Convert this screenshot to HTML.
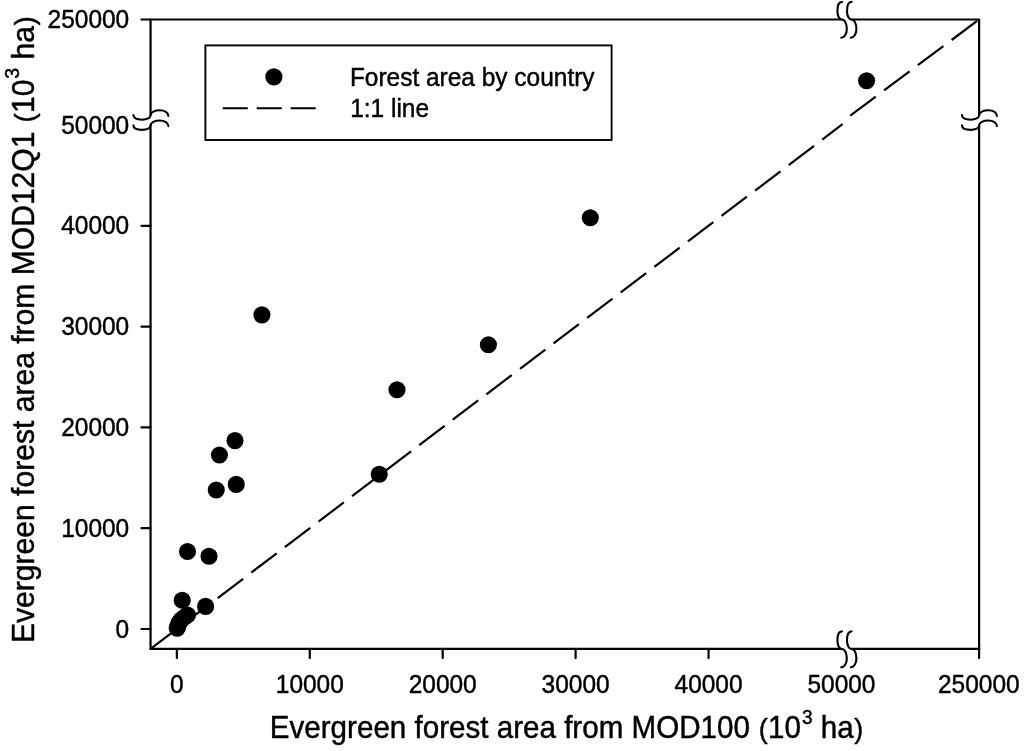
<!DOCTYPE html>
<html lang="en"><head><meta charset="utf-8"><title>Evergreen forest area</title>
<style>html,body{margin:0;padding:0;background:#fff}svg{display:block}text{font-family:"Liberation Sans",Arial,sans-serif;fill:#000;stroke:#000;stroke-width:0.45px;stroke-linejoin:round}</style></head><body>
<svg width="1024" height="751" viewBox="0 0 1024 751">
<rect width="1024" height="751" fill="#fff"/>
<g stroke="#000" stroke-width="2.2" fill="none" stroke-linecap="butt">
<path d="M149.55,19.5 H841.6999999999999 M851.1,19.5 H980.1"/>
<path d="M149.55,648.95 H841.6999999999999 M851.1,648.95 H980.1"/>
<path d="M150.55,19.5 V115.89999999999999 M150.55,125.3 V648.95"/>
<path d="M979.1,19.5 V115.89999999999999 M979.1,125.3 V648.95"/>
<path stroke-linecap="round" d="M176.85,648.95 V658.0500000000001"/>
<path stroke-linecap="round" d="M141.45000000000002,629.00 H150.55"/>
<path stroke-linecap="round" d="M309.77,648.95 V658.0500000000001"/>
<path stroke-linecap="round" d="M141.45000000000002,528.20 H150.55"/>
<path stroke-linecap="round" d="M442.69,648.95 V658.0500000000001"/>
<path stroke-linecap="round" d="M141.45000000000002,427.40 H150.55"/>
<path stroke-linecap="round" d="M575.61,648.95 V658.0500000000001"/>
<path stroke-linecap="round" d="M141.45000000000002,326.60 H150.55"/>
<path stroke-linecap="round" d="M708.53,648.95 V658.0500000000001"/>
<path stroke-linecap="round" d="M141.45000000000002,225.80 H150.55"/>
<path stroke-linecap="round" d="M979.1,648.95 V658.0500000000001"/>
<path stroke-linecap="round" d="M141.45000000000002,19.5 H150.55"/>
</g>
<g stroke="#000" stroke-width="2.1" fill="none" stroke-linecap="round">
<path transform="translate(841.60,19.5)" d="M0.4,-17.6 C-2.6,-17.6 -4.2,-13.6 -4.2,-8.6 C-4.2,-3.6 -2.3,0 0.2,0 C3.3,0 5.2,4.5 5.2,9.5 C5.2,14.5 2.7,18.3 -0.4,18.3"/>
<path transform="translate(851.20,19.5)" d="M0.4,-17.6 C-2.6,-17.6 -4.2,-13.6 -4.2,-8.6 C-4.2,-3.6 -2.3,0 0.2,0 C3.3,0 5.2,4.5 5.2,9.5 C5.2,14.5 2.7,18.3 -0.4,18.3"/>
<path transform="translate(841.60,648.95)" d="M0.4,-17.6 C-2.6,-17.6 -4.2,-13.6 -4.2,-8.6 C-4.2,-3.6 -2.3,0 0.2,0 C3.3,0 5.2,4.5 5.2,9.5 C5.2,14.5 2.7,18.3 -0.4,18.3"/>
<path transform="translate(851.20,648.95)" d="M0.4,-17.6 C-2.6,-17.6 -4.2,-13.6 -4.2,-8.6 C-4.2,-3.6 -2.3,0 0.2,0 C3.3,0 5.2,4.5 5.2,9.5 C5.2,14.5 2.7,18.3 -0.4,18.3"/>
<path transform="translate(150.55,115.50) rotate(-90) scale(1,0.975)" d="M0.4,-17.6 C-2.6,-17.6 -4.2,-13.6 -4.2,-8.6 C-4.2,-3.6 -2.3,0 0.2,0 C3.3,0 5.2,4.5 5.2,9.5 C5.2,14.5 2.7,18.3 -0.4,18.3"/>
<path transform="translate(150.55,125.70) rotate(-90) scale(1,0.975)" d="M0.4,-17.6 C-2.6,-17.6 -4.2,-13.6 -4.2,-8.6 C-4.2,-3.6 -2.3,0 0.2,0 C3.3,0 5.2,4.5 5.2,9.5 C5.2,14.5 2.7,18.3 -0.4,18.3"/>
<path transform="translate(979.1,115.50) rotate(-90) scale(1,0.975)" d="M0.4,-17.6 C-2.6,-17.6 -4.2,-13.6 -4.2,-8.6 C-4.2,-3.6 -2.3,0 0.2,0 C3.3,0 5.2,4.5 5.2,9.5 C5.2,14.5 2.7,18.3 -0.4,18.3"/>
<path transform="translate(979.1,125.70) rotate(-90) scale(1,0.975)" d="M0.4,-17.6 C-2.6,-17.6 -4.2,-13.6 -4.2,-8.6 C-4.2,-3.6 -2.3,0 0.2,0 C3.3,0 5.2,4.5 5.2,9.5 C5.2,14.5 2.7,18.3 -0.4,18.3"/>
</g>
<path d="M150.55,648.95 L842.5,124.24" stroke="#000" stroke-width="2.2" fill="none" stroke-dasharray="31.85 10.3"/>
<path d="M850.25,115.6 L979.1,19.5" stroke="#000" stroke-width="2.2" fill="none" stroke-dasharray="31.85 10.3"/>
<g fill="#000">
<circle cx="866.6" cy="80.75" r="8.55"/>
<circle cx="590.3" cy="217.7" r="8.55"/>
<circle cx="261.9" cy="314.9" r="8.55"/>
<circle cx="488.4" cy="344.8" r="8.55"/>
<circle cx="397" cy="389.8" r="8.55"/>
<circle cx="379.25" cy="474.25" r="8.55"/>
<circle cx="235" cy="440.6" r="8.55"/>
<circle cx="219.4" cy="455" r="8.55"/>
<circle cx="236.25" cy="484.4" r="8.55"/>
<circle cx="216.25" cy="490" r="8.55"/>
<circle cx="187.5" cy="551.5" r="8.55"/>
<circle cx="209" cy="556.25" r="8.55"/>
<circle cx="182.2" cy="600.3" r="8.55"/>
<circle cx="205.6" cy="606.4" r="8.55"/>
<circle cx="187.5" cy="615" r="8.55"/>
<circle cx="184" cy="617.5" r="8.55"/>
<circle cx="181" cy="620" r="8.55"/>
<circle cx="179" cy="623" r="8.55"/>
<circle cx="178" cy="626" r="8.55"/>
<circle cx="177.2" cy="628.1" r="8.55"/>
</g>
<rect x="205.4" y="45.4" width="406.2" height="94.6" fill="#fff" stroke="#000" stroke-width="1.9"/>
<circle cx="273.9" cy="76.9" r="8.6" fill="#000"/>
<path d="M222.7,108.3 H315.8" stroke="#000" stroke-width="2" stroke-dasharray="25.1 8.85" fill="none"/>
<text transform="translate(349.9,85.7) scale(0.967,1)" font-size="25.3">Forest area by country</text>
<text transform="translate(350.2,117.0) scale(0.967,1)" font-size="25.3">1:1 line</text>
<text transform="translate(176.85,692.60) scale(0.967,1)" font-size="25.3" text-anchor="middle">0</text>
<text transform="translate(129.20,637.60) scale(0.967,1)" font-size="25.3" text-anchor="end">0</text>
<text transform="translate(309.77,692.60) scale(0.967,1)" font-size="25.3" text-anchor="middle">10000</text>
<text transform="translate(129.20,536.80) scale(0.967,1)" font-size="25.3" text-anchor="end">10000</text>
<text transform="translate(442.69,692.60) scale(0.967,1)" font-size="25.3" text-anchor="middle">20000</text>
<text transform="translate(129.20,436.00) scale(0.967,1)" font-size="25.3" text-anchor="end">20000</text>
<text transform="translate(575.61,692.60) scale(0.967,1)" font-size="25.3" text-anchor="middle">30000</text>
<text transform="translate(129.20,335.20) scale(0.967,1)" font-size="25.3" text-anchor="end">30000</text>
<text transform="translate(708.53,692.60) scale(0.967,1)" font-size="25.3" text-anchor="middle">40000</text>
<text transform="translate(129.20,234.40) scale(0.967,1)" font-size="25.3" text-anchor="end">40000</text>
<text transform="translate(841.45,692.60) scale(0.967,1)" font-size="25.3" text-anchor="middle">50000</text>
<text transform="translate(129.20,133.60) scale(0.967,1)" font-size="25.3" text-anchor="end">50000</text>
<text transform="translate(978.80,692.60) scale(0.967,1)" font-size="25.3" text-anchor="middle">250000</text>
<text transform="translate(129.20,28.10) scale(0.967,1)" font-size="25.3" text-anchor="end">250000</text>
<text id="xt" transform="translate(269.8,738) scale(0.961,1)" font-size="30.8">Evergreen forest area from MOD100 <tspan font-size="28.1" dx="0.6">(</tspan><tspan dx="0.4">10</tspan><tspan font-size="19.8" dx="1" dy="-14.4">3</tspan><tspan dy="14.4"> ha</tspan><tspan font-size="28.1" dx="0.6">)</tspan></text>
<text id="yt" transform="translate(34.4,643.0) rotate(-90) scale(0.9765,1)" font-size="30.8">Evergreen forest area from MOD12Q1 <tspan font-size="28.1" dx="0.6">(</tspan><tspan dx="0.4">10</tspan><tspan font-size="20" dx="1" dy="-15">3</tspan><tspan dy="15"> ha</tspan><tspan font-size="28.1" dx="0.6">)</tspan></text>
</svg></body></html>
